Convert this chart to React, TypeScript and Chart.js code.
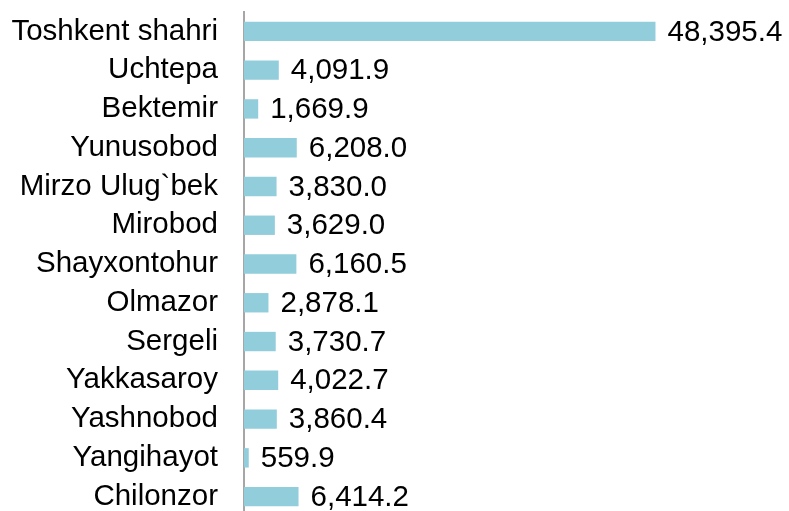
import React, { useEffect, useRef } from "react";
import { Chart, registerables } from "chart.js";

Chart.register(...registerables);

const categories = [
  "Toshkent shahri",
  "Uchtepa",
  "Bektemir",
  "Yunusobod",
  "Mirzo Ulug`bek",
  "Mirobod",
  "Shayxontohur",
  "Olmazor",
  "Sergeli",
  "Yakkasaroy",
  "Yashnobod",
  "Yangihayot",
  "Chilonzor",
];

const values = [
  48395.4, 4091.9, 1669.9, 6208.0, 3830.0, 3629.0, 6160.5, 2878.1, 3730.7,
  4022.7, 3860.4, 559.9, 6414.2,
];

const FONT = "'Liberation Sans', Arial, sans-serif";

const valueLabels = {
  id: "valueLabels",
  afterDatasetsDraw(chart: any) {
    const ctx = chart.ctx;
    const meta = chart.getDatasetMeta(0);
    ctx.save();
    ctx.font = `29.5px ${FONT}`;
    ctx.fillStyle = "#000000";
    ctx.textAlign = "left";
    ctx.textBaseline = "middle";
    meta.data.forEach((bar: any, i: number) => {
      const v = values[i];
      const txt = v.toLocaleString("en-US", {
        minimumFractionDigits: 1,
        maximumFractionDigits: 1,
      });
      ctx.fillText(txt, bar.x + 12, bar.y + 1);
    });
    ctx.restore();
  },
};

export default function App() {
  const ref = useRef<HTMLCanvasElement | null>(null);
  useEffect(() => {
    if (!ref.current) return;
    const chart = new Chart(ref.current, {
      type: "bar",
      data: {
        labels: categories,
        datasets: [
          {
            data: values,
            backgroundColor: "#92CDDC",
            borderWidth: 0,
            categoryPercentage: 1,
            barPercentage: 0.5,
          },
        ],
      },
      options: {
        indexAxis: "y",
        responsive: false,
        maintainAspectRatio: false,
        animation: false,
        layout: { padding: { top: 12, bottom: 4, left: 12, right: 0 } },
        plugins: {
          legend: { display: false },
          tooltip: { enabled: false },
          title: { display: false },
        },
        scales: {
          x: {
            display: false,
            min: 0,
            max: 64100,
          },
          y: {
            grid: { display: false, drawTicks: false },
            border: { display: true, color: "#A6A6A6", width: 2 },
            ticks: {
              color: "#000000",
              padding: 26,
              autoSkip: false,
              font: { family: FONT, size: 29.5 },
            },
            afterFit(scale: any) {
              scale.width = 232;
              scale.paddingTop = 0;
              scale.paddingBottom = 0;
            },
          },
        },
      },
      plugins: [valueLabels],
    });
    return () => chart.destroy();
  }, []);
  return (
    <div style={{ position: "absolute", left: 0, top: 0, width: 789, height: 520 }}>
      <canvas ref={ref} width={789} height={520} style={{ display: "block", width: 789, height: 520 }} />
    </div>
  );
}
